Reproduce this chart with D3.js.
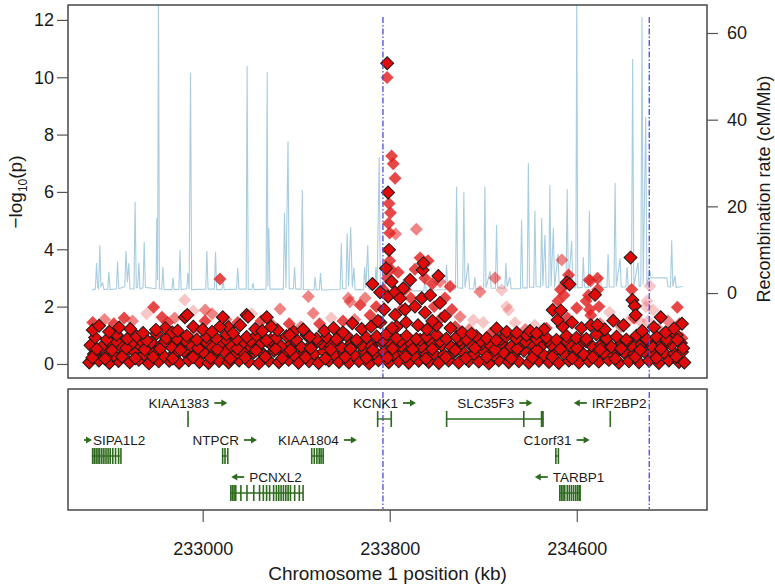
<!DOCTYPE html>
<html>
<head>
<meta charset="utf-8">
<script src="https://cdn.jsdelivr.net/npm/d3@7"></script>
<style>
  html, body { margin: 0; padding: 0; background: #fff; }
  svg text { font-family: "Liberation Sans", Arial, Helvetica, sans-serif; fill: #1a1a1a; }
</style>
</head>
<body>
<div id="chart"></div>
<script>
// regional association plot: -log10(p) diamonds, recombination rate, genes below

// recombination rate track [position kb, cM/Mb]
const recombination = [
  [232526,0.8],[232541,0.9],[232546,6.9],[232551,1.2],[232555,1.0],[232560,11],[232565,1.5],[232573,2.3],[232578,0.8],[232594,0.9],
  [232599,4.9],[232604,0.8],[232631,1.0],[232636,7.2],[232641,1.0],[232667,1.5],[232672,9.7],[232678,2.5],[232684,6.9],[232689,1.0],
  [232706,0.9],[232711,21],[232716,1.2],[232722,1.3],[232727,7],[232732,1.0],[232745,1.2],[232750,11.8],[232755,1.3],[232800,1.0],
  [232804,17.3],[232807,3],[232811,70],[232815,1.0],[232825,0.9],[232830,6],[232835,0.8],[232868,0.8],[232873,3.5],[232878,0.8],
  [232898,0.9],[232903,10],[232908,0.8],[232932,1.0],[232937,4.6],[232942,0.9],[232948,50.8],[232953,0.8],[233013,0.9],[233018,9.7],
  [233023,0.9],[233050,0.9],[233055,9.5],[233060,0.8],[233082,0.8],[233087,3],[233092,0.8],[233145,0.9],[233150,5.8],[233155,0.9],
  [233186,0.9],[233190,52.4],[233195,0.8],[233210,0.9],[233215,2.3],[233220,0.8],[233271,0.9],[233276,51],[233279,1.5],[233283,15],
  [233288,0.9],[233345,0.9],[233350,18.5],[233356,1.2],[233365,35],[233370,1.0],[233388,1.0],[233393,6],[233398,0.9],[233421,0.9],
  [233426,23.8],[233431,0.8],[233476,0.7],[233481,3.7],[233486,0.7],[233499,0.8],[233504,4.6],[233509,0.7],[233588,0.8],[233593,11.5],
  [233598,1.0],[233613,1.0],[233618,13.8],[233624,1.5],[233633,15.2],[233640,1.3],[233647,5.8],[233652,0.8],[233688,0.8],[233693,6],
  [233698,1.2],[233706,11],[233711,0.9],[233736,0.9],[233741,6],[233746,1.2],[233755,31.4],[233760,0.6],[233775,0.5],[233780,3],
  [233785,0.4],[233817,0.4],[233822,2.5],[233827,0.4],[233882,0.5],[233887,3],[233892,0.5],[233946,0.5],[233951,3.5],[233956,0.6],
  [234038,0.8],[234043,6.5],[234048,0.9],[234081,0.9],[234086,24.5],[234091,1.2],[234112,1.1],[234117,23.3],[234122,1.3],[234136,6.9],
  [234141,1.0],[234159,0.9],[234164,3.7],[234169,0.9],[234202,1.0],[234207,24.5],[234212,1.2],[234229,5],[234234,1.1],[234252,1.1],
  [234257,15.7],[234262,1.2],[234292,1.1],[234297,6.9],[234302,1.4],[234314,3.7],[234319,1.0],[234359,1.0],[234364,16.9],[234369,1.2],
  [234388,1.2],[234393,30],[234398,1.4],[234416,1.3],[234421,19],[234426,1.5],[234445,1.4],[234450,17.3],[234455,1.6],[234464,13.4],
  [234469,1.4],[234480,1.3],[234485,25],[234490,1.5],[234500,15],[234505,1.3],[234520,9],[234525,1.2],[234554,1.1],[234559,24],
  [234564,1.3],[234578,12],[234583,1.2],[234596,1.2],[234600,70],[234604,1.2],[234623,1.3],[234628,8.3],[234633,1.4],[234649,1.3],
  [234654,19],[234659,1.5],[234700,4],[234705,1.3],[234729,1.3],[234734,9],[234739,1.4],[234759,1.4],[234764,25.4],[234769,1.5],
  [234785,8],[234790,1.4],[234810,1.4],[234815,6],[234820,1.5],[234834,1.6],[234839,54],[234844,1.6],[234862,7],[234867,1.6],
  [234874,1.6],[234879,63.7],[234884,2.0],[234895,40.6],[234900,1.8],[234913,5],[234918,3.5],[234985,3.5],[234990,1.5],[235001,1.4],
  [235006,12.2],[235011,1.5],[235020,4],[235025,1.3],[235053,1.5]
];

// SNPs drawn with black outline [kb, -log10 p]
const snpBand = [
  [232515,0.05],[232556,0.12],[232601,0.03],[232640,0.10],[232688,0.06],[232727,0.14],[232770,0.02],[232812,0.09],[232857,0.11],[232899,0.04],
  [232940,0.13],[232986,0.07],[233025,0.03],[233070,0.10],[233111,0.05],[233156,0.12],[233197,0.08],[233240,0.02],[233283,0.11],[233326,0.06],
  [233368,0.14],[233410,0.04],[233455,0.09],[233496,0.03],[233540,0.12],[233583,0.07],[233625,0.05],[233668,0.10],[233712,0.02],[233752,0.13],
  [233796,0.06],[233838,0.09],[233881,0.04],[233924,0.11],[233967,0.07],[234010,0.03],[234052,0.12],[234095,0.05],[234138,0.10],[234181,0.08],
  [234224,0.02],[234266,0.13],[234309,0.06],[234352,0.09],[234395,0.04],[234438,0.11],[234481,0.07],[234523,0.03],[234566,0.12],[234609,0.05],
  [234652,0.10],[234694,0.08],[234737,0.14],[234780,0.04],[234823,0.09],[234866,0.06],[234909,0.11],[234951,0.03],[234994,0.12],[235037,0.07],
  [235060,0.05],
  [232535,0.35],[232578,0.42],[232620,0.30],[232664,0.38],[232706,0.45],[232749,0.33],[232791,0.40],[232834,0.28],[232878,0.36],[232920,0.44],
  [232963,0.31],[233005,0.39],[233048,0.34],[233091,0.43],[233133,0.29],[233176,0.37],[233219,0.41],[233262,0.32],[233305,0.46],[233347,0.35],
  [233390,0.30],[233433,0.40],[233476,0.36],[233518,0.43],[233561,0.33],[233604,0.38],[233647,0.31],[233690,0.45],[233733,0.37],[233775,0.42],
  [233818,0.34],[233860,0.40],[233903,0.29],[233946,0.44],[233989,0.36],[234031,0.32],[234074,0.41],[234117,0.38],[234160,0.35],[234203,0.43],
  [234245,0.30],[234288,0.39],[234331,0.34],[234374,0.46],[234417,0.37],[234459,0.31],[234502,0.42],[234545,0.36],[234588,0.40],[234630,0.33],
  [234673,0.45],[234716,0.38],[234759,0.30],[234802,0.41],[234845,0.35],[234888,0.43],[234930,0.32],[234973,0.39],[235016,0.36],[235050,0.42],
  [232520,0.65],[232566,0.58],[232609,0.72],[232651,0.62],[232697,0.70],[232738,0.60],[232781,0.75],[232823,0.66],[232866,0.59],[232910,0.71],
  [232952,0.64],[232995,0.68],[233037,0.61],[233080,0.74],[233122,0.63],[233166,0.69],[233208,0.57],[233251,0.73],[233294,0.66],[233336,0.62],
  [233379,0.70],[233421,0.60],[233465,0.67],[233507,0.72],[233550,0.64],[233593,0.58],[233636,0.71],[233679,0.65],[233722,0.62],[233764,0.76],
  [233806,0.68],[233849,0.63],[233892,0.70],[233935,0.61],[233978,0.74],[234021,0.66],[234063,0.59],[234106,0.72],[234149,0.64],[234192,0.69],
  [234234,0.62],[234277,0.73],[234320,0.60],[234363,0.67],[234406,0.71],[234448,0.63],[234491,0.66],[234534,0.70],[234577,0.61],[234620,0.74],
  [234662,0.65],[234705,0.68],[234748,0.60],[234791,0.72],[234834,0.64],[234877,0.69],[234920,0.62],[234962,0.71],[235005,0.66],[235045,0.73],
  [232528,0.22],[232547,0.52],[232583,0.18],[232612,0.48],[232629,0.80],[232655,0.25],[232673,0.55],[232712,0.20],[232735,0.82],[232752,0.50],
  [232788,0.24],[232818,0.53],[232840,0.78],[232872,0.19],[232905,0.49],[232925,0.83],[232958,0.23],[232980,0.55],[233012,0.79],[233034,0.21],
  [233062,0.51],[233098,0.86],[233118,0.18],[233148,0.54],[233182,0.22],[233205,0.80],[233228,0.47],[233268,0.25],[233290,0.84],[233312,0.52],
  [233340,0.20],[233375,0.48],[233395,0.81],[233440,0.23],[233462,0.55],[233490,0.79],[233525,0.19],[233548,0.50],[233578,0.85],[233610,0.24],
  [233632,0.53],[233660,0.78],[233700,0.21],[233728,0.49],[233770,0.82],[233790,0.22],[233812,0.54],[233845,0.80],[233868,0.25],[233898,0.51],
  [233930,0.84],[233955,0.18],[233982,0.52],[234015,0.79],[234040,0.23],[234080,0.48],[234100,0.83],[234125,0.20],[234165,0.55],[234190,0.80],
  [234215,0.24],[234250,0.50],[234275,0.86],[234320,0.19],[234345,0.53],[234380,0.78],[234410,0.22],[234430,0.49],[234475,0.81],[234495,0.25],
  [234530,0.52],[234552,0.84],[234580,0.20],[234600,0.55],[234640,0.79],[234668,0.23],[234700,0.50],[234725,0.85],[234765,0.18],[234790,0.54],
  [234815,0.80],[234850,0.24],[234872,0.49],[234900,0.82],[234940,0.21],[234960,0.53],[234985,0.78],[235025,0.25],[235055,0.55],
  [232540,0.92],[232590,0.85],[232632,1.02],[232678,0.88],[232718,0.96],[232760,0.83],[232802,1.05],[232845,0.90],[232890,0.87],[232932,0.98],
  [232975,0.84],[233016,0.95],[233058,0.89],[233102,1.03],[233145,0.86],[233188,0.94],[233230,0.99],[233273,0.82],[233316,0.91],[233358,0.97],
  [233400,0.85],[233444,1.01],[233487,0.88],[233530,0.93],[233572,0.86],[233615,0.99],[233658,0.84],[233700,0.92],[233744,0.96],[233786,1.04],
  [233828,0.90],[233872,0.98],[233914,0.87],[233957,0.95],[234000,1.02],[234042,0.88],[234086,0.93],[234128,0.85],[234170,0.97],[234214,0.90],
  [234256,0.83],[234298,0.96],[234342,0.89],[234385,1.00],[234428,0.86],[234470,0.92],[234513,0.84],[234556,0.98],[234598,0.91],[234641,0.87],
  [234684,1.03],[234727,0.89],[234770,0.95],[234812,0.85],[234856,0.99],[234898,0.88],[234941,0.94],[234984,0.86],[235027,1.01],
  [232530,1.18],[232600,1.12],[232690,1.22],[232745,1.08],[232840,1.25],[232870,1.10],[232960,1.30],[233000,1.20],[233040,1.12],[233110,1.28],
  [233160,1.35],[233225,1.22],[233255,1.15],[233320,1.18],[233390,1.12],[233430,1.20],[233520,1.15],[233560,1.25],[233600,1.10],[233680,1.22],
  [233720,1.30],[233760,1.45],[233830,1.30],[233870,1.45],[233960,1.20],[234000,1.35],[234060,1.25],[234110,1.10],[234150,1.05],[234300,1.12],
  [234400,1.15],[234460,1.20],[234540,1.30],[234580,1.45],[234620,1.25],[234660,1.35],[234720,1.20],[234800,1.35],[234880,1.15],[234930,1.28],
  [234980,1.10],[235050,1.40]
];

const snpHits = [
  [232557,1.33],[232643,1.27],[232800,1.19],[232893,1.16],[232924,1.63],[232934,1.71],[233074,1.30],[233086,1.63],[233130,1.07],[233188,1.71],
  [233194,1.65],[233274,1.63],[233293,1.30],[233372,1.01],[233458,0.95],[233640,1.42],[233726,2.79],[233750,1.50],[233759,2.50],[233776,1.90],
  [233784,3.34],[233793,2.35],[233797,3.98],[233793,5.98],[233808,2.87],[233810,1.25],[233823,1.71],[233823,2.50],[233844,2.29],[233858,2.64],
  [233866,1.90],[233887,2.93],[233908,2.00],[233921,1.35],[233937,2.29],[233941,3.28],[233944,3.51],[233951,1.79],[233973,2.40],[233982,1.50],
  [234008,3.07],[234015,2.13],[234036,1.67],[234257,1.24],[234343,1.09],[234428,1.07],[234497,1.88],[234518,1.53],[234532,1.86],[234557,2.84],
  [234569,2.78],[234678,2.41],[234688,1.36],[234756,1.51],[234830,3.71],[234838,2.23],[234848,2.02],[234852,1.71],[234959,1.63],[235016,1.24],
  [235030,0.84],[233789,10.49]
];

// SNPs without outline [kb, -log10 p, shade level 1..3]
const snpFaded = [
  [233789,9.99,3],[233808,7.25,3],[233815,6.98,3],[233823,6.48,3],[233797,5.60,3],[233803,5.27,3],[233795,4.90,3],[233800,4.57,3],[233825,4.53,2],[233914,4.70,2],
  [233800,3.60,3],[233790,3.00,3],[233805,3.30,3],
  [233452,2.35,2],[233473,1.77,2],[233623,2.29,2],[233673,2.06,3],[234186,2.52,2],[234250,3.00,2],[234279,2.58,1],[234300,2.00,1],[234101,1.65,2],
  [234158,1.53,1],[234336,1.44,1],[234058,2.70,3],[234015,2.87,2],[233074,2.96,3],[232790,1.98,3],[232826,1.63,3],[232923,2.23,1],[233011,1.88,2],
  [232664,1.60,3],[232964,1.08,2],[233331,1.92,2],[233630,2.17,2],[234536,3.63,2],[234653,2.93,3],[234689,2.99,3],[235030,1.98,3],[234913,2.72,1],
  [234820,1.48,1],[234927,1.88,1],[234308,1.88,1],
  [233742,2.00,3],[233772,2.60,3],[233836,3.20,3],[233866,2.60,3],[233908,3.30,3],[233964,3.60,3],[233982,2.80,3],[234036,2.30,3],[234066,1.90,3],
  [233716,1.70,3],[233695,2.30,2],[233930,3.70,3],[233950,3.00,3],[233890,2.30,3],[233850,1.90,3],[233990,2.00,3],[234020,1.60,3],
  [232530,1.45,3],[232580,1.55,2],[232620,1.40,3],[232700,1.50,2],[232760,1.75,1],[232850,1.45,3],[232880,1.60,2],[232960,1.85,1],[233010,1.50,3],
  [233040,1.75,2],[233100,1.55,2],[233150,1.45,3],[233210,1.75,1],[233250,1.50,3],[233300,1.35,2],[233370,1.40,3],[233420,1.30,2],[233500,1.40,3],
  [233550,1.60,1],[233600,1.50,3],[233650,1.55,2],[234080,1.30,3],[234140,1.20,2],[234200,1.45,1],[234230,1.05,3],[234380,1.20,2],[234420,1.35,1],
  [234470,1.25,3],[234560,1.60,3],[234600,1.95,3],[234640,2.20,3],[234660,1.70,3],[234700,1.40,2],[234740,1.80,1],[234790,1.30,2],[234870,1.50,1],
  [234900,2.20,1],[234950,1.20,2],[234990,1.50,2],[235040,1.40,3],
  [234520,2.20,3],[234530,2.60,3],[234545,2.40,3],[234650,2.40,3],[234655,1.90,3],[234690,2.60,3],[234695,2.00,3],[234835,2.60,3],[234845,1.60,3],
  [234890,1.20,1],[234895,2.00,1],[234905,1.50,1],[234660,2.90,2],[234565,3.10,3],
  [232560,0.50,3],[232660,0.80,3],[232760,0.50,3],[232880,0.90,3],[232990,0.50,3],[233090,0.85,3],[233200,0.55,3],[233310,0.90,3],[233420,0.50,3],
  [233530,0.85,3],[233640,0.55,3],[233740,0.90,3],[233850,0.50,3],[233960,0.85,3],[234070,0.55,3],[234180,0.90,3],[234290,0.50,3],[234400,0.85,3],
  [234510,0.55,3],[234620,0.90,3],[234730,0.50,3],[234840,0.85,3],[234950,0.55,3],[235050,0.90,3]
];

// vertical marker positions (kb)
const markerKb = [233771, 234910];

// genes
const geneNames  = ['KIAA1383','KCNK1','SLC35F3','IRF2BP2','SIPA1L2','NTPCR','KIAA1804','C1orf31','PCNXL2','TARBP1'];
const geneStart  = [232934, 233745, 234040, 234740, 232526, 233082, 233463, 234507, 233117, 234524];
const geneEnd    = [232940, 233810, 234459, 234746, 232650, 233107, 233519, 234520, 233429, 234614];
const geneStrand = ['+', '+', '+', '-', '>', '+', '+', '+', '-', '-'];
const geneRow    = [0, 0, 0, 0, 1, 1, 1, 1, 2, 2];
const geneExons  = [
  [[232934,232940]],
  [[233745,233748],[233803,233810]],
  [[234040,234042],[234370,234372],[234446,234459]],
  [[234740,234746]],
  [[232526,232528],[232533,232535],[232541,232543],[232549,232551],[232556,232558],[232565,232567],[232574,232576],[232583,232585],
   [232592,232594],[232601,232603],[232612,232614],[232624,232626],[232637,232639],[232647,232650]],
  [[233082,233084],[233092,233094],[233104,233107]],
  [[233463,233466],[233474,233477],[233485,233488],[233495,233499],[233503,233508],[233512,233519]],
  [[234507,234509],[234518,234520]],
  [[233117,233119],[233124,233126],[233131,233133],[233138,233140],[233160,233162],[233186,233188],[233215,233217],[233240,233242],
   [233256,233258],[233270,233272],[233283,233285],[233300,233302],[233312,233314],[233322,233324],[233332,233334],[233342,233344],
   [233352,233354],[233362,233364],[233372,233374],[233390,233392],[233410,233412],[233426,233429]],
  [[234524,234528],[234531,234535],[234538,234542],[234545,234549],[234556,234560],[234565,234569],[234574,234578],[234583,234587],
   [234592,234596],[234600,234604],[234607,234611],[234611,234614]]
];

const pTicks = [0, 2, 4, 6, 8, 10, 12];
const rateTicks = [0, 20, 40, 60];
const posTicks = [233000, 233800, 234600];

(function(){
  const W = 775, H = 585;
  const L = 68, R = 707;
  const top = {y0: 5, y1: 378}, bot = {y0: 389, y1: 510};
  const green = '#2e6b1d';

  const svg = d3.select('#chart').append('svg').attr('width', W).attr('height', H);

  const x = d3.scaleLinear().domain([232424, 235157]).range([L, R]);
  const y = d3.scaleLinear().domain([-0.49, 12.52]).range([top.y1, top.y0]);
  const yr = d3.scaleLinear().domain([-19.6, 66.46]).range([top.y1, top.y0]);
  const rowY = d3.scaleLinear().domain([0, 2]).range([419, 493]);

  svg.append('clipPath').attr('id', 'clipTop')
    .append('rect').attr('x', L).attr('y', top.y0).attr('width', R - L).attr('height', top.y1 - top.y0);

  const plot = svg.append('g').attr('clip-path', 'url(#clipTop)');

  // recombination rate
  plot.append('path')
    .datum(recombination)
    .attr('fill', 'none')
    .attr('stroke', '#a9cde0')
    .attr('stroke-width', 1.1)
    .attr('d', d3.line().x(d => x(d[0])).y(d => yr(d[1])));

  const diamond = d3.symbol().type(d3.symbolSquare).size(84);
  const shade = [0, 0.25, 0.55, 0.82];

  plot.selectAll('path.faded').data(snpFaded).join('path')
    .attr('class', 'faded')
    .attr('d', diamond)
    .attr('transform', d => `translate(${x(d[0])},${y(d[1])}) rotate(45)`)
    .attr('fill', '#e01f1f')
    .attr('fill-opacity', d => shade[d[2]]);

  plot.selectAll('path.bold').data(snpBand.concat(snpHits)).join('path')
    .attr('class', 'bold')
    .attr('d', diamond)
    .attr('transform', d => `translate(${x(d[0])},${y(d[1])}) rotate(45)`)
    .attr('fill', '#e00a0a')
    .attr('stroke', '#1a1a1a')
    .attr('stroke-width', 1);

  // dashed markers
  const markStyle = sel => sel.attr('stroke', '#4b4bdc').attr('stroke-width', 1.3)
    .attr('stroke-dasharray', '6,2,1.5,2');
  markerKb.forEach(k => {
    svg.append('line').attr('x1', x(k)).attr('x2', x(k)).attr('y1', y(12.1)).attr('y2', top.y1).call(markStyle);
    svg.append('line').attr('x1', x(k)).attr('x2', x(k)).attr('y1', bot.y0 + 3).attr('y2', bot.y1 - 1).call(markStyle);
  });

  // frames
  [top, bot].forEach(p => {
    svg.append('rect').attr('x', L).attr('y', p.y0).attr('width', R - L).attr('height', p.y1 - p.y0)
      .attr('fill', 'none').attr('stroke', '#3a3a3a').attr('stroke-width', 1.4);
  });

  function styleAxis(g){
    g.select('.domain').remove();
    g.selectAll('.tick line').attr('stroke', '#555').attr('stroke-width', 1.2);
    g.selectAll('.tick text').attr('font-size', 18).style('fill', '#1a1a1a')
      .attr('font-family', '"Liberation Sans", Arial, sans-serif');
  }

  svg.append('g').attr('transform', `translate(${L},0)`)
    .call(d3.axisLeft(y).tickValues(pTicks).tickSize(11).tickPadding(3))
    .call(styleAxis);

  svg.append('g').attr('transform', `translate(${R},0)`)
    .call(d3.axisRight(yr).tickValues(rateTicks).tickSize(11).tickPadding(9))
    .call(styleAxis);

  svg.append('g').attr('transform', `translate(0,${bot.y1})`)
    .call(d3.axisBottom(x).tickValues(posTicks).tickFormat(d3.format('d')).tickSize(12).tickPadding(20))
    .call(styleAxis);

  // axis titles
  const yt = svg.append('text').attr('transform', 'translate(22,192) rotate(-90)')
    .attr('text-anchor', 'middle').attr('font-size', 19);
  yt.append('tspan').text('\u2212log');
  yt.append('tspan').text('10').attr('font-size', 12).attr('dy', 5);
  yt.append('tspan').text('(p)').attr('dy', -5);

  svg.append('text').attr('transform', 'translate(770,189) rotate(-90)')
    .attr('text-anchor', 'middle').attr('font-size', 18).text('Recombination rate (cM/Mb)');

  svg.append('text').attr('x', (L + R) / 2).attr('y', 580)
    .attr('text-anchor', 'middle').attr('font-size', 19).text('Chromosome 1 position (kb)');

  // genes
  const gl = svg.append('g');
  function arrow(x0, x1, yy){
    const dir = x1 > x0 ? 1 : -1;
    gl.append('line').attr('x1', x0).attr('x2', x1 - dir * 3).attr('y1', yy).attr('y2', yy)
      .attr('stroke', green).attr('stroke-width', 1.8);
    gl.append('path').attr('d', `M${x1},${yy} L${x1 - dir * 6},${yy - 3.5} L${x1 - dir * 6},${yy + 3.5} Z`)
      .attr('fill', green);
  }

  geneNames.forEach((name, i) => {
    const cy = rowY(geneRow[i]);
    const x0 = x(geneStart[i]), x1 = x(geneEnd[i]);
    gl.append('line').attr('x1', x0).attr('x2', x1).attr('y1', cy).attr('y2', cy)
      .attr('stroke', green).attr('stroke-width', 1.4);
    geneExons[i].forEach(e => {
      const ex = x(e[0]), ew = Math.max(1.6, x(e[1]) - x(e[0]));
      gl.append('rect').attr('x', ex).attr('y', cy - 8).attr('width', ew).attr('height', 16).attr('fill', green);
    });

    const ty = cy - 11.5;
    const t = gl.append('text').attr('font-size', 13.5).attr('y', ty).text(name);
    const tw = t.node().getComputedTextLength();
    const s = geneStrand[i];
    const gap = s === '>' ? 1 : 5, al = s === '>' ? 8 : 13;
    const total = tw + gap + al;
    let lx = (x0 + x1) / 2 - total / 2;
    lx = Math.max(lx, L + 16);
    const ay = ty - 4.5;
    if (s === '+') {
      t.attr('x', lx);
      arrow(lx + tw + gap, lx + tw + gap + al, ay);
    } else if (s === '-') {
      arrow(lx + al, lx, ay);
      t.attr('x', lx + al + gap);
    } else {
      arrow(lx, lx + al, ay);
      t.attr('x', lx + al + gap);
    }
  });
})();
</script>
</body>
</html>
